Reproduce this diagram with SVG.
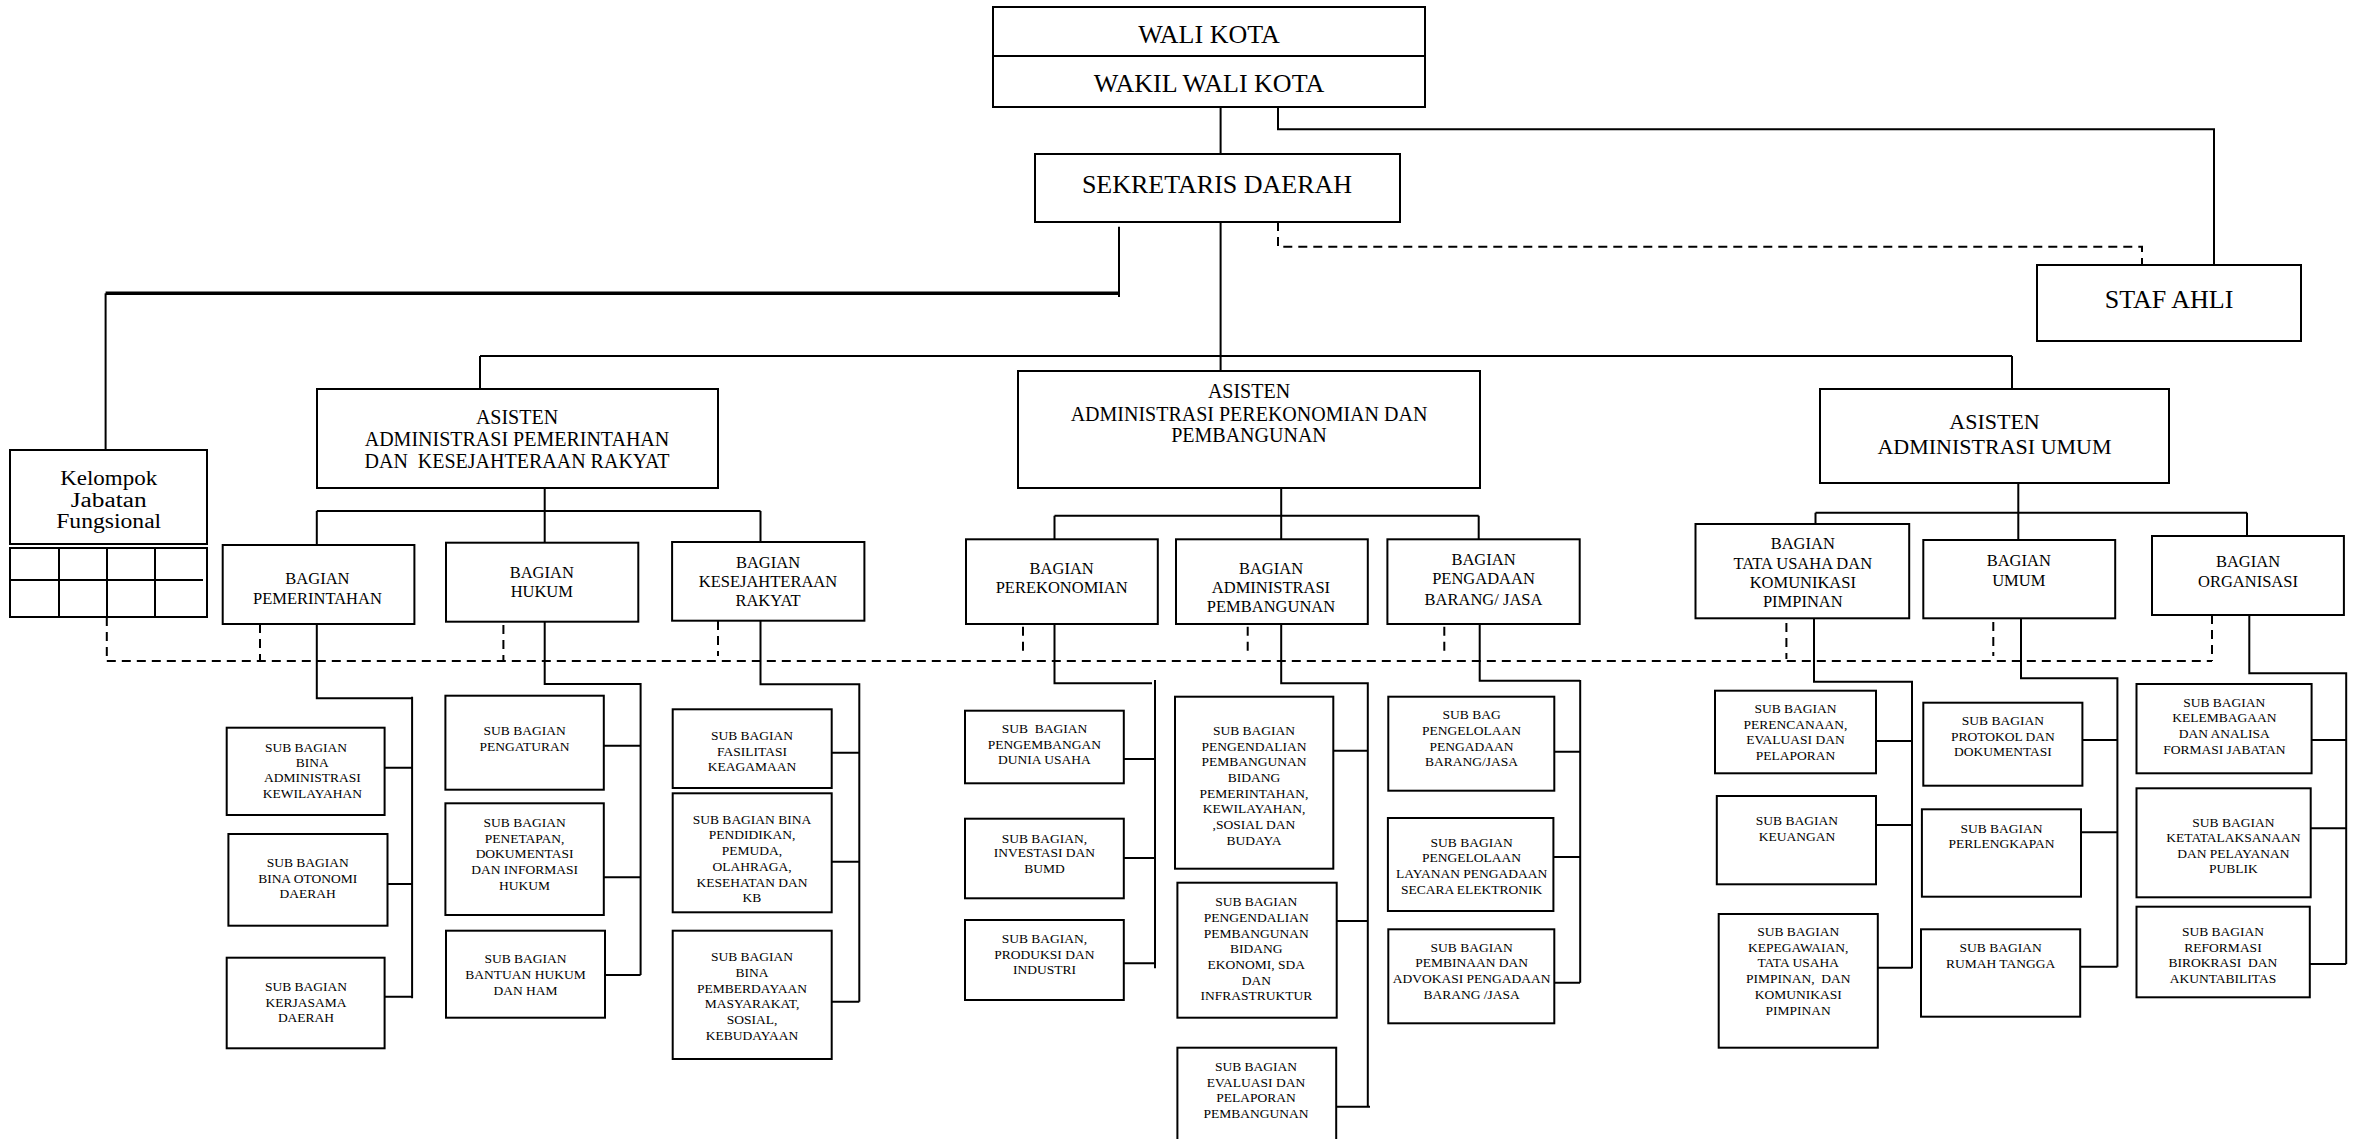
<svg xmlns="http://www.w3.org/2000/svg" width="2353" height="1139" viewBox="0 0 2353 1139">
<style>
.box{fill:#fff;stroke:#000;stroke-width:2}
.ln{fill:none;stroke:#000;stroke-width:2}
.thk{fill:none;stroke:#000;stroke-width:3.5}
.dsh{fill:none;stroke:#000;stroke-width:2;stroke-dasharray:9 6}
text{font-family:"Liberation Serif","Times New Roman",serif;fill:#000;text-anchor:middle;white-space:pre}
.t1{font-size:26px}
.t2{font-size:20px}
.t2b{font-size:22px}
.t3{font-size:16.5px}
.t4{font-size:13.5px}
.tk{font-size:20px}
</style>
<rect width="2353" height="1139" fill="#fff"/>
<g id="connectors">
<path class="ln" d="M1220.6,107V154M1278,107V129.3H2214V265"/>
<path class="dsh" d="M1278,222V246.7H2142V270"/>
<path class="ln" d="M1119,226.7V297"/>
<path class="thk" d="M105.6,293.3H1119"/>
<path class="ln" d="M105.6,293.3V450"/>
<path class="ln" d="M1220.6,222V371M480,356H2012M480,356V389M2012,356V389"/>
<path class="ln" d="M544.7,487.7V511M316.8,511H760.5M316.8,511V545M544.7,511V542.7M760.5,511V542"/>
<path class="ln" d="M316.8,624V698.3H412.1M412.1,696.7V998.3M384.6,767.7H412M387.5,884H412M384.6,996.7H412"/>
<path class="ln" d="M544.7,621.7V684H640.6V975M603.8,745.7H640.6M603.8,877.3H640.6M605,975H640.6"/>
<path class="ln" d="M760.5,620.7V684.3H859.3V1001.7M831.7,752.7H859.3M831.7,861.7H859.3M831.7,1001.7H859.3"/>
<path class="ln" d="M1281.2,487.7V515.7M1054.5,515.7H1478.7M1054.5,515.7V539.3M1281.2,515.7V539.3M1478.7,515.7V539.3"/>
<path class="ln" d="M1054.5,624V683.3H1152M1155,680V968.3M1123.8,759H1155M1123.8,858H1155M1123.8,963.3H1155"/>
<path class="ln" d="M1281.2,624V683.3H1367.8V1107.7M1333.3,750.7H1367.8M1336.7,921H1367.8M1336.2,1106.7H1370"/>
<path class="ln" d="M1479.7,624V680.7H1580M1580.2,680V982.7M1554.3,751.7H1580M1553.4,857H1580M1554.3,982.7H1580"/>
<path class="ln" d="M2018.3,482.7V512.7M1815.5,512.7H2247M1815.5,512.7V524M2018.3,512.7V540M2247,512.7V536"/>
<path class="ln" d="M1814,618.3V681.7H1912V968.3M1876,741H1912M1876,825H1912M1877.8,967.7H1912"/>
<path class="ln" d="M2021,618.3V678.3H2117.4V966.7M2082.4,740H2117.4M2081,832.3H2117.4M2080.2,966.7H2117.4"/>
<path class="ln" d="M2249.3,615V673.3H2346.2V964M2311.6,740H2346.2M2310.7,828.3H2346.2M2309.8,964H2346.2"/>
<path class="dsh" d="M106.8,661H2212M106.8,617V661M260,624V661M503.4,625V661M718,621V656M1023,626.7V656.7M1247.7,626.7V656.7M1444.3,626.7V656.7M1786.4,623V659M1993.3,622V656M2212,615V661"/>
</g>
<g id="wali-kota"><rect class="box" x="993" y="7" width="432" height="49"/><text class="t1" x="1209" y="43">WALI KOTA</text></g>
<g id="wakil-wali-kota"><rect class="box" x="993" y="56" width="432" height="51"/><text class="t1" x="1209" y="92">WAKIL WALI KOTA</text></g>
<g id="sekretaris-daerah"><rect class="box" x="1035" y="154" width="365" height="68"/><text class="t1" x="1217" y="193">SEKRETARIS DAERAH</text></g>
<g id="staf-ahli"><rect class="box" x="2037" y="265" width="264" height="76"/><text class="t1" x="2169" y="308">STAF AHLI</text></g>
<g id="kelompok-jabatan-fungsional"><rect class="box" x="10" y="450" width="197" height="94"/><text class="tk"><tspan x="108.7" y="485" textLength="97" lengthAdjust="spacingAndGlyphs">Kelompok</tspan><tspan x="108.7" y="507" textLength="76" lengthAdjust="spacingAndGlyphs">Jabatan</tspan><tspan x="108.7" y="528" textLength="105" lengthAdjust="spacingAndGlyphs">Fungsional</tspan></text>
<rect class="box" x="10" y="548" width="197" height="69"/><path class="ln" d="M10,580H203M59,548V617M107,548V617M155,548V617"/></g>
<g id="asisten-pemerintahan"><rect class="box" x="317" y="389" width="401" height="99"/><text class="t2"><tspan x="517" y="424">ASISTEN</tspan><tspan x="517" y="446">ADMINISTRASI PEMERINTAHAN</tspan><tspan x="517" y="468">DAN  KESEJAHTERAAN RAKYAT</tspan></text></g>
<g id="asisten-perekonomian"><rect class="box" x="1018" y="371" width="462" height="117"/><text class="t2"><tspan x="1249" y="398">ASISTEN</tspan><tspan x="1249" y="420.7">ADMINISTRASI PEREKONOMIAN DAN</tspan><tspan x="1249" y="442.3">PEMBANGUNAN</tspan></text></g>
<g id="asisten-umum"><rect class="box" x="1820" y="389" width="349" height="94"/><text class="t2b"><tspan x="1994.5" y="429">ASISTEN</tspan><tspan x="1994.5" y="454">ADMINISTRASI UMUM</tspan></text></g>
<g id="bagian-pemerintahan"><rect class="box" x="222.7" y="545" width="191.7" height="79"/><text class="t3"><tspan x="317.4" y="584">BAGIAN</tspan><tspan x="317.4" y="604">PEMERINTAHAN</tspan></text></g>
<g id="bagian-hukum"><rect class="box" x="446" y="542.7" width="192.3" height="79"/><text class="t3"><tspan x="541.8" y="578.4">BAGIAN</tspan><tspan x="541.8" y="597.4">HUKUM</tspan></text></g>
<g id="bagian-kesejahteraan"><rect class="box" x="672.1" y="542" width="192.3" height="78.7"/><text class="t3"><tspan x="768" y="568">BAGIAN</tspan><tspan x="768" y="587.4">KESEJAHTERAAN</tspan><tspan x="768" y="606.4">RAKYAT</tspan></text></g>
<g id="bagian-perekonomian"><rect class="box" x="966" y="539.3" width="191.8" height="84.7"/><text class="t3"><tspan x="1061.7" y="574.3">BAGIAN</tspan><tspan x="1061.7" y="593.3">PEREKONOMIAN</tspan></text></g>
<g id="bagian-adm-pembangunan"><rect class="box" x="1176" y="539.3" width="191.8" height="84.7"/><text class="t3"><tspan x="1271" y="574.3">BAGIAN</tspan><tspan x="1271" y="593.3">ADMINISTRASI</tspan><tspan x="1271" y="611.7">PEMBANGUNAN</tspan></text></g>
<g id="bagian-pengadaan"><rect class="box" x="1387.4" y="539.3" width="192.3" height="84.7"/><text class="t3"><tspan x="1483.5" y="565">BAGIAN</tspan><tspan x="1483.5" y="584">PENGADAAN</tspan><tspan x="1483.5" y="605">BARANG/ JASA</tspan></text></g>
<g id="bagian-tata-usaha"><rect class="box" x="1695.5" y="524" width="213.7" height="94.3"/><text class="t3"><tspan x="1802.8" y="549.3">BAGIAN</tspan><tspan x="1802.8" y="569">TATA USAHA DAN</tspan><tspan x="1802.8" y="588.3">KOMUNIKASI</tspan><tspan x="1802.8" y="607.3">PIMPINAN</tspan></text></g>
<g id="bagian-umum"><rect class="box" x="1923.3" y="540" width="191.9" height="78.3"/><text class="t3"><tspan x="2018.8" y="565.7">BAGIAN</tspan><tspan x="2018.8" y="585.7">UMUM</tspan></text></g>
<g id="bagian-organisasi"><rect class="box" x="2152" y="536" width="191.9" height="79"/><text class="t3"><tspan x="2248" y="567.3">BAGIAN</tspan><tspan x="2248" y="587.3">ORGANISASI</tspan></text></g>
<g id="sb-bina-adm-kewilayahan"><rect class="box" x="226.7" y="727.7" width="157.9" height="87.3"/><text class="t4"><tspan x="306" y="751.7">SUB BAGIAN</tspan><tspan x="312.3" y="766.7">BINA</tspan><tspan x="312.3" y="782.3">ADMINISTRASI</tspan><tspan x="312.3" y="798.3">KEWILAYAHAN</tspan></text></g>
<g id="sb-bina-otonomi"><rect class="box" x="228.4" y="834" width="159.1" height="91.7"/><text class="t4"><tspan x="307.7" y="867.3">SUB BAGIAN</tspan><tspan x="307.7" y="883.3">BINA OTONOMI</tspan><tspan x="307.7" y="898.3">DAERAH</tspan></text></g>
<g id="sb-kerjasama"><rect class="box" x="226.7" y="957.7" width="157.9" height="90.6"/><text class="t4"><tspan x="306" y="990.7">SUB BAGIAN</tspan><tspan x="306" y="1006.7">KERJASAMA</tspan><tspan x="306" y="1022.3">DAERAH</tspan></text></g>
<g id="sb-pengaturan"><rect class="box" x="445.4" y="695.7" width="158.4" height="94"/><text class="t4"><tspan x="524.6" y="735">SUB BAGIAN</tspan><tspan x="524.6" y="750.7">PENGATURAN</tspan></text></g>
<g id="sb-penetapan"><rect class="box" x="445.4" y="803.3" width="158.4" height="111.7"/><text class="t4"><tspan x="524.6" y="826.7">SUB BAGIAN</tspan><tspan x="524.6" y="842.7">PENETAPAN,</tspan><tspan x="524.6" y="858.3">DOKUMENTASI</tspan><tspan x="524.6" y="874">DAN INFORMASI</tspan><tspan x="524.6" y="890">HUKUM</tspan></text></g>
<g id="sb-bantuan-hukum"><rect class="box" x="446" y="930.7" width="159" height="87"/><text class="t4"><tspan x="525.5" y="963.3">SUB BAGIAN</tspan><tspan x="525.5" y="979.3">BANTUAN HUKUM</tspan><tspan x="525.5" y="995">DAN HAM</tspan></text></g>
<g id="sb-fasilitasi-keagamaan"><rect class="box" x="672.7" y="709.3" width="159" height="78.7"/><text class="t4"><tspan x="752" y="740">SUB BAGIAN</tspan><tspan x="752" y="755.7">FASILITASI</tspan><tspan x="752" y="771">KEAGAMAAN</tspan></text></g>
<g id="sb-bina-pendidikan"><rect class="box" x="672.7" y="793.3" width="159" height="119"/><text class="t4"><tspan x="752" y="824">SUB BAGIAN BINA</tspan><tspan x="752" y="839.3">PENDIDIKAN,</tspan><tspan x="752" y="855">PEMUDA,</tspan><tspan x="752" y="870.7">OLAHRAGA,</tspan><tspan x="752" y="886.7">KESEHATAN DAN</tspan><tspan x="752" y="902.3">KB</tspan></text></g>
<g id="sb-bina-pemberdayaan"><rect class="box" x="672.7" y="930.7" width="159" height="128.3"/><text class="t4"><tspan x="752" y="960.7">SUB BAGIAN</tspan><tspan x="752" y="976.7">BINA</tspan><tspan x="752" y="992.7">PEMBERDAYAAN</tspan><tspan x="752" y="1008.3">MASYARAKAT,</tspan><tspan x="752" y="1024">SOSIAL,</tspan><tspan x="752" y="1040">KEBUDAYAAN</tspan></text></g>
<g id="sb-pengembangan-dunia-usaha"><rect class="box" x="965" y="710.7" width="158.8" height="72.6"/><text class="t4"><tspan x="1044.4" y="733.3">SUB  BAGIAN</tspan><tspan x="1044.4" y="749.3">PENGEMBANGAN</tspan><tspan x="1044.4" y="764.3">DUNIA USAHA</tspan></text></g>
<g id="sb-investasi"><rect class="box" x="965" y="818.7" width="158.8" height="79.6"/><text class="t4"><tspan x="1044.4" y="842.7">SUB BAGIAN,</tspan><tspan x="1044.4" y="857.3">INVESTASI DAN</tspan><tspan x="1044.4" y="873.3">BUMD</tspan></text></g>
<g id="sb-produksi"><rect class="box" x="965" y="920" width="158.8" height="80"/><text class="t4"><tspan x="1044.4" y="943.3">SUB BAGIAN,</tspan><tspan x="1044.4" y="959">PRODUKSI DAN</tspan><tspan x="1044.4" y="974">INDUSTRI</tspan></text></g>
<g id="sb-pengendalian-pemerintahan"><rect class="box" x="1175" y="696.7" width="158.3" height="172"/><text class="t4"><tspan x="1254" y="735">SUB BAGIAN</tspan><tspan x="1254" y="750.7">PENGENDALIAN</tspan><tspan x="1254" y="766">PEMBANGUNAN</tspan><tspan x="1254" y="782.3">BIDANG</tspan><tspan x="1254" y="797.7">PEMERINTAHAN,</tspan><tspan x="1254" y="813.3">KEWILAYAHAN,</tspan><tspan x="1254" y="829">,SOSIAL DAN</tspan><tspan x="1254" y="845">BUDAYA</tspan></text></g>
<g id="sb-pengendalian-ekonomi"><rect class="box" x="1177.4" y="882.7" width="159.3" height="135"/><text class="t4"><tspan x="1256.3" y="905.7">SUB BAGIAN</tspan><tspan x="1256.3" y="921.7">PENGENDALIAN</tspan><tspan x="1256.3" y="937.7">PEMBANGUNAN</tspan><tspan x="1256.3" y="953.3">BIDANG</tspan><tspan x="1256.3" y="969">EKONOMI, SDA</tspan><tspan x="1256.3" y="985">DAN</tspan><tspan x="1256.3" y="1000">INFRASTRUKTUR</tspan></text></g>
<g id="sb-evaluasi-pembangunan"><rect class="box" x="1177.4" y="1047.7" width="158.8" height="100"/><text class="t4"><tspan x="1256" y="1070.7">SUB BAGIAN</tspan><tspan x="1256" y="1086.7">EVALUASI DAN</tspan><tspan x="1256" y="1102.3">PELAPORAN</tspan><tspan x="1256" y="1117.7">PEMBANGUNAN</tspan></text></g>
<g id="sb-pengelolaan-pengadaan"><rect class="box" x="1388.3" y="696.7" width="166" height="94"/><text class="t4"><tspan x="1471.6" y="719.3">SUB BAG</tspan><tspan x="1471.6" y="735">PENGELOLAAN</tspan><tspan x="1471.6" y="750.7">PENGADAAN</tspan><tspan x="1471.6" y="766">BARANG/JASA</tspan></text></g>
<g id="sb-layanan-pengadaan"><rect class="box" x="1387.9" y="818" width="165.5" height="93"/><text class="t4"><tspan x="1471.6" y="846.7">SUB BAGIAN</tspan><tspan x="1471.6" y="862.3">PENGELOLAAN</tspan><tspan x="1471.6" y="878.3">LAYANAN PENGADAAN</tspan><tspan x="1471.6" y="894">SECARA ELEKTRONIK</tspan></text></g>
<g id="sb-pembinaan-advokasi"><rect class="box" x="1388.3" y="929.3" width="166" height="94"/><text class="t4"><tspan x="1471.6" y="951.7">SUB BAGIAN</tspan><tspan x="1471.6" y="967.3">PEMBINAAN DAN</tspan><tspan x="1471.6" y="983.3">ADVOKASI PENGADAAN</tspan><tspan x="1471.6" y="999">BARANG /JASA</tspan></text></g>
<g id="sb-perencanaan"><rect class="box" x="1715" y="690.7" width="161" height="82.6"/><text class="t4"><tspan x="1795.5" y="713.3">SUB BAGIAN</tspan><tspan x="1795.5" y="729.3">PERENCANAAN,</tspan><tspan x="1795.5" y="744">EVALUASI DAN</tspan><tspan x="1795.5" y="760">PELAPORAN</tspan></text></g>
<g id="sb-keuangan"><rect class="box" x="1716.8" y="796" width="159.2" height="88.3"/><text class="t4"><tspan x="1796.9" y="825">SUB BAGIAN</tspan><tspan x="1796.9" y="841">KEUANGAN</tspan></text></g>
<g id="sb-kepegawaian"><rect class="box" x="1718.7" y="914" width="159.1" height="133.7"/><text class="t4"><tspan x="1798.2" y="936">SUB BAGIAN</tspan><tspan x="1798.2" y="951.7">KEPEGAWAIAN,</tspan><tspan x="1798.2" y="967.3">TATA USAHA</tspan><tspan x="1798.2" y="983.3">PIMPINAN,  DAN</tspan><tspan x="1798.2" y="999">KOMUNIKASI</tspan><tspan x="1798.2" y="1015">PIMPINAN</tspan></text></g>
<g id="sb-protokol"><rect class="box" x="1923.3" y="702.7" width="159.1" height="83"/><text class="t4"><tspan x="2002.9" y="725">SUB BAGIAN</tspan><tspan x="2002.9" y="740.7">PROTOKOL DAN</tspan><tspan x="2002.9" y="756">DOKUMENTASI</tspan></text></g>
<g id="sb-perlengkapan"><rect class="box" x="1921.9" y="809.3" width="159.1" height="87.4"/><text class="t4"><tspan x="2001.5" y="832.7">SUB BAGIAN</tspan><tspan x="2001.5" y="848.3">PERLENGKAPAN</tspan></text></g>
<g id="sb-rumah-tangga"><rect class="box" x="1921" y="929.3" width="159.2" height="87.4"/><text class="t4"><tspan x="2000.6" y="952.3">SUB BAGIAN</tspan><tspan x="2000.6" y="968.3">RUMAH TANGGA</tspan></text></g>
<g id="sb-kelembagaan"><rect class="box" x="2136.5" y="684" width="175.1" height="89.3"/><text class="t4"><tspan x="2224.3" y="706.7">SUB BAGIAN</tspan><tspan x="2224.3" y="722.3">KELEMBAGAAN</tspan><tspan x="2224.3" y="738.3">DAN ANALISA</tspan><tspan x="2224.3" y="754.3">FORMASI JABATAN</tspan></text></g>
<g id="sb-ketatalaksanaan"><rect class="box" x="2136.5" y="788.3" width="174.2" height="109"/><text class="t4"><tspan x="2233.4" y="826.7">SUB BAGIAN</tspan><tspan x="2233.4" y="842.3">KETATALAKSANAAN</tspan><tspan x="2233.4" y="857.7">DAN PELAYANAN</tspan><tspan x="2233.4" y="873.3">PUBLIK</tspan></text></g>
<g id="sb-reformasi"><rect class="box" x="2136.5" y="906.7" width="173.3" height="90.6"/><text class="t4"><tspan x="2223" y="936">SUB BAGIAN</tspan><tspan x="2223" y="951.7">REFORMASI</tspan><tspan x="2223" y="966.7">BIROKRASI  DAN</tspan><tspan x="2223" y="982.7">AKUNTABILITAS</tspan></text></g>
</svg>
